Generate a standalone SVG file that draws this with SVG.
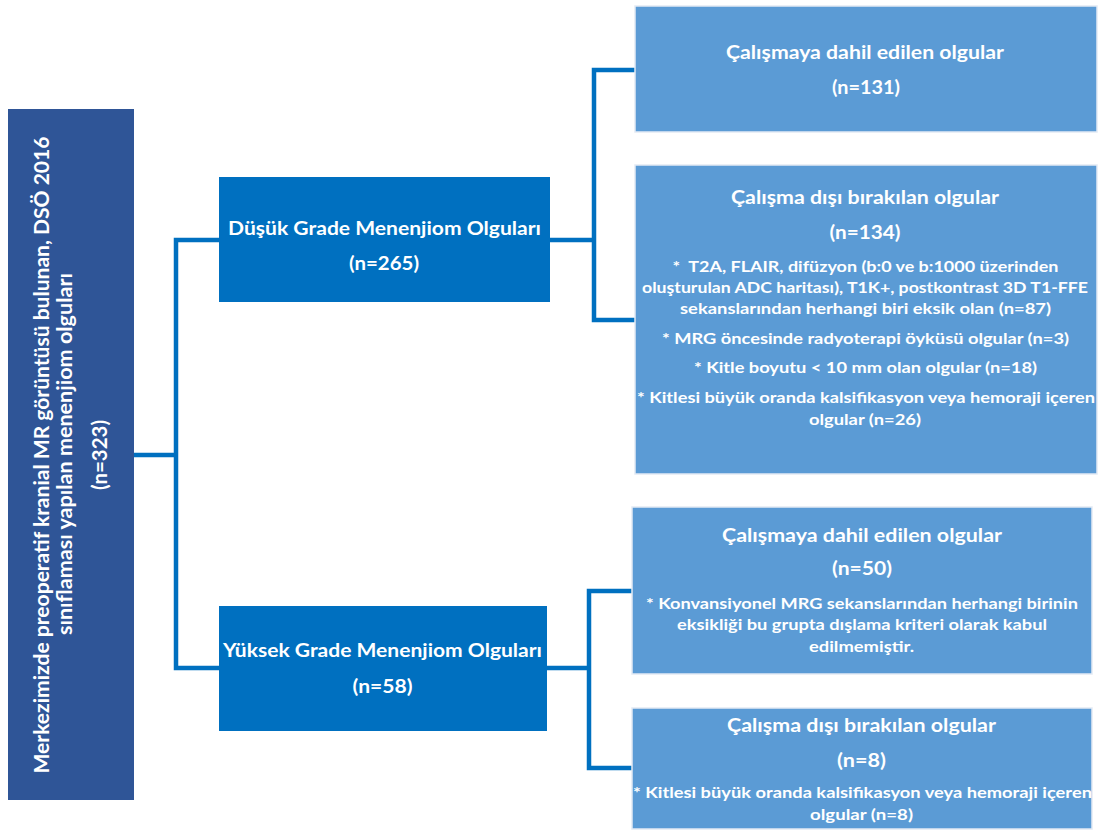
<svg xmlns="http://www.w3.org/2000/svg" width="1103" height="830" viewBox="0 0 1103 830">
<style>
.t{font-family:Lato,"Open Sans","Liberation Sans",sans-serif;font-weight:700;fill:#ffffff;text-anchor:middle;white-space:pre}
.big{font-size:21px}
.h{font-size:18px}
.s{font-size:15.5px}
.conn{fill:none;stroke:#0070C0;stroke-width:4.5}
.dark{fill:#2F5597}
.mid{fill:#0070C0}
.light{fill:#5B9BD5;stroke:#E3EAF4;stroke-width:1.5}
</style>
<rect width="1103" height="830" fill="#ffffff"/>
<g id="connectors">
<path class="conn" d="M134 455H176M219 240H176V668H219"/>
<path class="conn" d="M550 240H594M635 70H594V320H635"/>
<path class="conn" d="M547 668H589M632 591H589V768H632"/>
</g>
<g id="node-total">
<rect class="dark" x="8" y="109" width="126" height="691"/>
<text class="t big" transform="translate(49,455) rotate(-90)" textLength="637" lengthAdjust="spacingAndGlyphs">Merkezimizde preoperatif kranial MR görüntüsü bulunan, DSÖ 2016</text>
<text class="t big" transform="translate(72,454) rotate(-90)" textLength="362" lengthAdjust="spacingAndGlyphs">sınıflaması yapılan menenjiom olguları</text>
<text class="t big" transform="translate(107,455) rotate(-90)" textLength="70" lengthAdjust="spacingAndGlyphs">(n=323)</text>
</g>
<g id="node-low">
<rect class="mid" x="219" y="177" width="331" height="125"/>
<text class="t h" x="384.5" y="235" textLength="313" lengthAdjust="spacingAndGlyphs">Düşük Grade Menenjiom Olguları</text>
<text class="t h" x="384" y="270" textLength="70" lengthAdjust="spacingAndGlyphs">(n=265)</text>
</g>
<g id="node-high">
<rect class="mid" x="219" y="606" width="328" height="125"/>
<text class="t h" x="382.5" y="657" textLength="319" lengthAdjust="spacingAndGlyphs">Yüksek Grade Menenjiom Olguları</text>
<text class="t h" x="382.5" y="693" textLength="60" lengthAdjust="spacingAndGlyphs">(n=58)</text>
</g>
<g id="node-low-included">
<rect class="light" x="635" y="6" width="462" height="126"/>
<text class="t h" x="865" y="59" textLength="278" lengthAdjust="spacingAndGlyphs">Çalışmaya dahil edilen olgular</text>
<text class="t h" x="866" y="94" textLength="68" lengthAdjust="spacingAndGlyphs">(n=131)</text>
</g>
<g id="node-low-excluded">
<rect class="light" x="635" y="165" width="462" height="309"/>
<text class="t h" x="865" y="204" textLength="268" lengthAdjust="spacingAndGlyphs">Çalışma dışı bırakılan olgular</text>
<text class="t h" x="865" y="239" textLength="71" lengthAdjust="spacingAndGlyphs">(n=134)</text>
<text class="t s" x="865.5" y="272" textLength="386" lengthAdjust="spacingAndGlyphs">*  T2A, FLAIR, difüzyon (b:0 ve b:1000 üzerinden</text>
<text class="t s" x="865" y="293" textLength="446" lengthAdjust="spacingAndGlyphs">oluşturulan ADC haritası), T1K+, postkontrast 3D T1-FFE</text>
<text class="t s" x="865.5" y="314" textLength="371" lengthAdjust="spacingAndGlyphs">sekanslarından herhangi biri eksik olan (n=87)</text>
<text class="t s" x="865.5" y="344" textLength="407" lengthAdjust="spacingAndGlyphs">* MRG öncesinde radyoterapi öyküsü olgular (n=3)</text>
<text class="t s" x="865.5" y="373" textLength="343" lengthAdjust="spacingAndGlyphs">* Kitle boyutu &lt; 10 mm olan olgular (n=18)</text>
<text class="t s" x="866" y="403" textLength="458" lengthAdjust="spacingAndGlyphs">* Kitlesi büyük oranda kalsifikasyon veya hemoraji içeren</text>
<text class="t s" x="865" y="425" textLength="112" lengthAdjust="spacingAndGlyphs">olgular (n=26)</text>
</g>
<g id="node-high-included">
<rect class="light" x="632" y="507" width="460" height="167"/>
<text class="t h" x="862" y="542" textLength="280" lengthAdjust="spacingAndGlyphs">Çalışmaya dahil edilen olgular</text>
<text class="t h" x="862" y="575" textLength="60" lengthAdjust="spacingAndGlyphs">(n=50)</text>
<text class="t s" x="862" y="609" textLength="432" lengthAdjust="spacingAndGlyphs">* Konvansiyonel MRG sekanslarından herhangi birinin</text>
<text class="t s" x="862" y="630" textLength="370" lengthAdjust="spacingAndGlyphs">eksikliği bu grupta dışlama kriteri olarak kabul</text>
<text class="t s" x="861.5" y="652" textLength="105" lengthAdjust="spacingAndGlyphs">edilmemiştir.</text>
</g>
<g id="node-high-excluded">
<rect class="light" x="632" y="708" width="460" height="121"/>
<text class="t h" x="861.5" y="732" textLength="269" lengthAdjust="spacingAndGlyphs">Çalışma dışı bırakılan olgular</text>
<text class="t h" x="861.5" y="767" textLength="49" lengthAdjust="spacingAndGlyphs">(n=8)</text>
<text class="t s" x="862.5" y="798" textLength="459" lengthAdjust="spacingAndGlyphs">* Kitlesi büyük oranda kalsifikasyon veya hemoraji içeren</text>
<text class="t s" x="861.5" y="820" textLength="103" lengthAdjust="spacingAndGlyphs">olgular (n=8)</text>
</g>
</svg>
